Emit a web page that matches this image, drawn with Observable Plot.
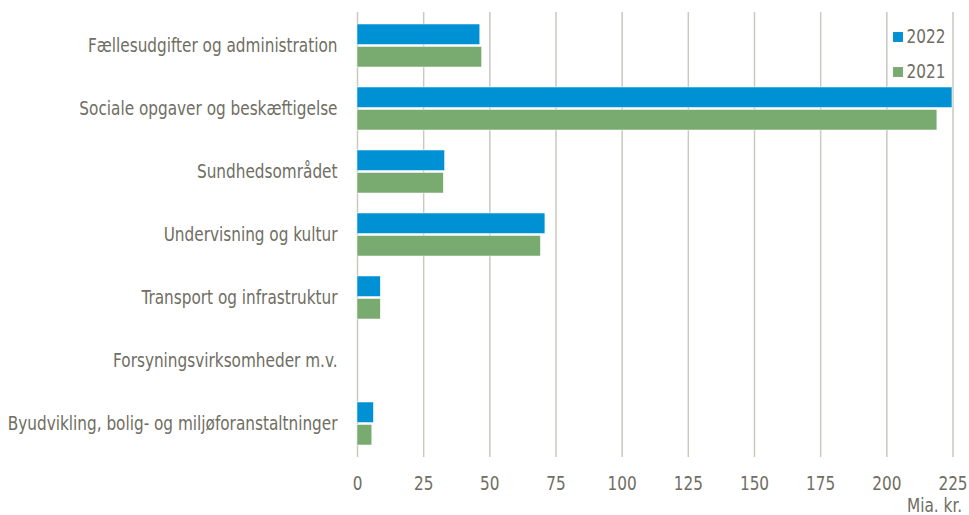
<!DOCTYPE html>
<html>
<head>
<meta charset="utf-8">
<script src="https://cdn.jsdelivr.net/npm/d3@7"></script>
<script src="https://cdn.jsdelivr.net/npm/@observablehq/plot@0.6"></script>
<style>
  html, body { margin: 0; padding: 0; background: #fff; }
</style>
</head>
<body>
<div id="chart"></div>
<script>
const categories = [
  "Fællesudgifter og administration",
  "Sociale opgaver og beskæftigelse",
  "Sundhedsområdet",
  "Undervisning og kultur",
  "Transport og infrastruktur",
  "Forsyningsvirksomheder m.v.",
  "Byudvikling, bolig- og miljøforanstaltninger"
];
const series = ["2022", "2021"];
const values2022 = [46.4, 224.8, 33.1, 71.0, 8.8, 0, 6.2];
const values2021 = [47.1, 219.1, 32.6, 69.3, 8.8, 0, 5.6];
const xTicks = [0, 25, 50, 75, 100, 125, 150, 175, 200, 225];
const unitLabel = "Mia. kr.";
const colors = {"2022": "#0090d4", "2021": "#79aa6f"};

const rows = categories.map((c, i) => ({cat: c, v2022: values2022[i], v2021: values2021[i]}));

const textColor = "#6f6e63";

const chart = Plot.plot({
  width: 969,
  height: 515,
  marginLeft: 357,
  marginRight: 16.5,
  marginTop: 12,
  marginBottom: 58,
  style: {
    fontFamily: "'DejaVu Sans Condensed', 'DejaVu Sans', sans-serif",
    fontSize: "20px",
    color: textColor,
    background: "white"
  },
  x: {domain: [0, 225], ticks: xTicks, label: null, tickSize: 0, tickPadding: 18},
  y: {domain: categories, paddingInner: 0.31, paddingOuter: 0.16, label: null, tickSize: 0, tickPadding: 20},
  marks: [
    Plot.ruleX(xTicks, {stroke: "#c9c9c0", strokeWidth: 1.5}),
    Plot.barX(rows, {x: "v2022", y: "cat", fill: colors["2022"], insetBottom: 22.5, stroke: "#ffffff", strokeWidth: 0.5}),
    Plot.barX(rows, {x: "v2021", y: "cat", fill: colors["2021"], insetTop: 22.5, stroke: "#ffffff", strokeWidth: 0.5}),
    ...series.map((s, i) => Plot.dot([s], {
      frameAnchor: "top-right", dx: -55, dy: 24.5 + i * 35,
      symbol: "square", r: 5.6, fill: colors[s], stroke: "none"
    })),
    ...series.map((s, i) => Plot.text([s], {
      frameAnchor: "top-right", dx: -7.5, dy: 24.5 + i * 35,
      text: d => d, textAnchor: "end", lineAnchor: "middle", fill: textColor, fontSize: 20
    })),
    Plot.text([unitLabel], {
      frameAnchor: "bottom-right", dx: 9, dy: 54,
      text: d => d, textAnchor: "end", lineAnchor: "bottom", fill: textColor, fontSize: 20
    })
  ]
});

// condense the text horizontally to mimic the narrow typeface
chart.querySelectorAll("text").forEach(t => {
  const x = +t.getAttribute("x") || 0;
  const tr = t.getAttribute("transform") || "";
  t.setAttribute("transform", `${tr} translate(${x},0) scale(0.85,1) translate(${-x},0)`);
});

document.getElementById("chart").appendChild(chart);
</script>
</body>
</html>
